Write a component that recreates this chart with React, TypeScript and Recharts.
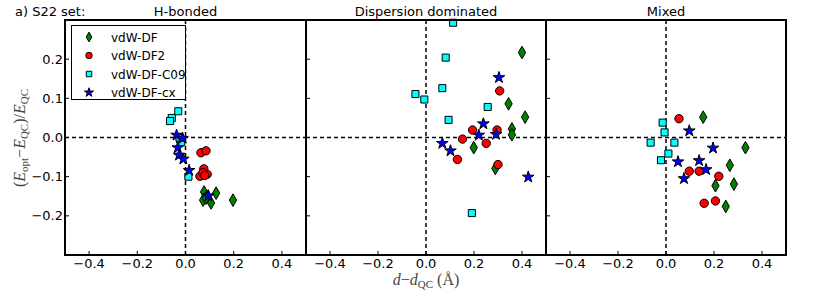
import { ReferenceLine, Scatter, ScatterChart, Symbols, XAxis, YAxis } from "recharts";

// d - d_QC (Å) vs (E_opt - E_QC)/E_QC, one array per functional and panel
const hbDF = [
  { x: 0.077, y: -0.139 }, { x: 0.127, y: -0.142 }, { x: 0.073, y: -0.16 }, { x: 0.106, y: -0.167 },
  { x: 0.197, y: -0.16 }, { x: 0.092, y: -0.15 }, { x: 0.085, y: -0.155 },
];
const hbDF2 = [
  { x: 0.064, y: -0.039 }, { x: 0.085, y: -0.034 }, { x: 0.076, y: -0.08 }, { x: 0.06, y: -0.099 },
  { x: 0.09, y: -0.094 }, { x: 0.072, y: -0.09 }, { x: 0.08, y: -0.097 },
];
const hbC09 = [
  { x: -0.03, y: 0.067 }, { x: -0.057, y: 0.05 }, { x: -0.064, y: 0.042 }, { x: -0.022, y: -0.005 },
  { x: -0.018, y: -0.012 }, { x: -0.025, y: 0.0 }, { x: 0.012, y: -0.1 },
];
const hbCX = [
  { x: -0.037, y: 0.006 }, { x: -0.012, y: -0.002 }, { x: -0.032, y: -0.026 }, { x: -0.027, y: -0.045 },
  { x: -0.009, y: -0.055 }, { x: 0.015, y: -0.084 }, { x: 0.095, y: -0.149 },
];

const dispDF = [
  { x: 0.4, y: 0.217 }, { x: 0.344, y: 0.086 }, { x: 0.413, y: 0.052 }, { x: 0.358, y: 0.022 },
  { x: 0.358, y: 0.007 }, { x: 0.199, y: -0.026 }, { x: 0.289, y: -0.079 },
];
const dispDF2 = [
  { x: 0.307, y: 0.119 }, { x: 0.194, y: 0.019 }, { x: 0.296, y: 0.019 }, { x: 0.152, y: -0.004 },
  { x: 0.251, y: -0.015 }, { x: 0.131, y: -0.056 }, { x: 0.3, y: -0.069 },
];
const dispC09 = [
  { x: 0.113, y: 0.293 }, { x: 0.082, y: 0.204 }, { x: 0.068, y: 0.126 }, { x: -0.044, y: 0.111 },
  { x: -0.007, y: 0.097 }, { x: 0.257, y: 0.078 }, { x: 0.094, y: 0.045 }, { x: 0.191, y: -0.193 },
];
const dispCX = [
  { x: 0.304, y: 0.153 }, { x: 0.239, y: 0.035 }, { x: 0.22, y: 0.006 }, { x: 0.292, y: 0.008 },
  { x: 0.068, y: -0.015 }, { x: 0.102, y: -0.034 }, { x: 0.426, y: -0.101 },
];

const mixDF = [
  { x: 0.155, y: 0.052 }, { x: 0.331, y: -0.026 }, { x: 0.266, y: -0.071 }, { x: 0.206, y: -0.123 },
  { x: 0.283, y: -0.119 }, { x: 0.249, y: -0.176 },
];
const mixDF2 = [
  { x: 0.054, y: 0.048 }, { x: 0.097, y: -0.086 }, { x: 0.138, y: -0.086 }, { x: 0.22, y: -0.099 },
  { x: 0.159, y: -0.168 }, { x: 0.206, y: -0.162 },
];
const mixC09 = [
  { x: -0.014, y: 0.038 }, { x: -0.006, y: 0.013 }, { x: -0.064, y: -0.013 }, { x: 0.035, y: -0.013 },
  { x: 0.01, y: -0.041 }, { x: -0.021, y: -0.058 },
];
const mixCX = [
  { x: 0.097, y: 0.017 }, { x: 0.196, y: -0.027 }, { x: 0.05, y: -0.062 }, { x: 0.138, y: -0.059 },
  { x: 0.167, y: -0.082 }, { x: 0.075, y: -0.105 },
];

const xTicks = [-0.4, -0.2, 0, 0.2, 0.4];
const yTicks = [-0.2, -0.1, 0, 0.1, 0.2];
const xDomain = [-0.5, 0.5];
const yDomain = [-0.3, 0.3];
const seriesNames = ["vdW-DF", "vdW-DF2", "vdW-DF-C09", "vdW-DF-cx"];

const markers = [
  { type: "diamond", fill: "#008000", size: 46 },
  { type: "circle", fill: "#ff0000", size: 55 },
  { type: "square", fill: "#00ffff", size: 50 },
  { type: "star", fill: "#0000ff", size: 42 },
] as const;

const fmt = (v: number) => (v < 0 ? "\u2212" + Math.abs(v).toFixed(1) : v.toFixed(1));
const tickFont = { fontSize: 13, fill: "#000", fontFamily: "DejaVu Sans" };
const noLabel = () => <g />;

const shapeFor = (i: number) => (p: any) => (
  <Symbols cx={p.cx} cy={p.cy} type={markers[i].type} size={markers[i].size} fill={markers[i].fill} stroke="#000" strokeWidth={1} />
);

function LegendBox() {
  return (
    <div style={{ position: "absolute", left: 71, top: 25, width: 115, height: 75, border: "1px solid #000", background: "#fff", boxSizing: "border-box" }}>
      <svg width={113} height={73} style={{ overflow: "visible" }}>
        {seriesNames.map((n, i) => (
          <g key={n}>
            <Symbols cx={17} cy={11 + i * 18.5} type={markers[i].type} size={markers[i].size * 0.6} fill={markers[i].fill} stroke="#000" strokeWidth={1} />
            <text x={39} y={15.5 + i * 18.5} fontSize={12} fontFamily="DejaVu Sans" fill="#000">{n}</text>
          </g>
        ))}
      </svg>
    </div>
  );
}

const yLabel = () => (
  <text x={25} y={138} transform="rotate(-90, 25, 138)" textAnchor="middle" fontFamily="Liberation Serif" fontSize={16} fill="#444">
    (<tspan fontStyle="italic">E</tspan>
    <tspan fontSize={11} dy={3}>opt</tspan>
    <tspan dy={-3}>{"\u2212"}</tspan>
    <tspan fontStyle="italic">E</tspan>
    <tspan fontSize={11} dy={3}>QC</tspan>
    <tspan dy={-3}>)/</tspan>
    <tspan fontStyle="italic">E</tspan>
    <tspan fontSize={11} dy={3}>QC</tspan>
  </text>
);

const xLabel = () => (
  <text x={121} y={285} textAnchor="middle" fontFamily="Liberation Serif" fontSize={16} fill="#444">
    <tspan fontStyle="italic">d</tspan>
    <tspan>{"\u2212"}</tspan>
    <tspan fontStyle="italic">d</tspan>
    <tspan fontSize={11} dy={3}>QC</tspan>
    <tspan dy={-3}> (Å)</tspan>
  </text>
);

const titleFor = (title: string, center: number, withSet: boolean) => () => (
  <g fontFamily="DejaVu Sans" fontSize={13} fill="#000">
    {withSet && <text x={15} y={16}>a) S22 set:</text>}
    <text x={center} y={16} textAnchor="middle">{title}</text>
  </g>
);

type Panel = {
  title: string;
  left: number;
  width: number;
  data: { x: number; y: number }[][];
  first?: boolean;
  mid?: boolean;
};

const frame = { stroke: "#000", strokeWidth: 2 };
const tickLn = { stroke: "#000", strokeWidth: 1 };

// every panel is framed by four axes; only the first carries y labels
function PanelChart({ title, left, width, data, first, mid }: Panel) {
  const yw = first ? 65 : 1;
  const x0 = left - (first ? 0 : 1);
  const w = width + yw + 1;
  return (
    <div style={{ position: "absolute", left: x0, top: 0 }}>
      <ScatterChart width={w} height={300} margin={{ top: 19, right: 0, bottom: 15, left: 0 }}>
        <XAxis
          type="number" dataKey="x" domain={xDomain} ticks={xTicks} interval={0} tickFormatter={fmt}
          tick={tickFont} tickSize={-4} tickMargin={8} height={30} axisLine={frame} tickLine={tickLn}
          label={mid ? xLabel : undefined}
        />
        <XAxis
          xAxisId="t" orientation="top" type="number" domain={xDomain} ticks={xTicks} interval={0}
          tick={noLabel} tickSize={-4} height={1} axisLine={frame} tickLine={tickLn}
          label={titleFor(title, yw + width / 2, !!first)}
        />
        <YAxis
          type="number" dataKey="y" domain={yDomain} ticks={yTicks} interval={0} tickFormatter={fmt}
          tick={first ? tickFont : noLabel} tickSize={-4} tickMargin={6} width={yw} axisLine={frame} tickLine={tickLn}
          label={first ? yLabel : undefined}
        />
        <YAxis
          yAxisId="r" orientation="right" type="number" domain={yDomain} ticks={yTicks} interval={0}
          tick={noLabel} tickSize={-4} width={1} axisLine={frame} tickLine={tickLn}
        />
        <ReferenceLine x={0} stroke="#000" strokeWidth={1.5} strokeDasharray="4 3" />
        <ReferenceLine y={0} stroke="#000" strokeWidth={1.5} strokeDasharray="4 3" />
        {data.map((d, i) => (
          <Scatter key={seriesNames[i]} name={seriesNames[i]} data={d} shape={shapeFor(i)} isAnimationActive={false} />
        ))}
      </ScatterChart>
    </div>
  );
}

export default function App() {
  return (
    <div style={{ position: "absolute", left: 0, top: 0, width: 827, height: 300, background: "#fff", fontFamily: "DejaVu Sans" }}>
      <PanelChart title="H-bonded" left={0} width={241} data={[hbDF, hbDF2, hbC09, hbCX]} first />
      <PanelChart title="Dispersion dominated" left={306} width={240} data={[dispDF, dispDF2, dispC09, dispCX]} mid />
      <PanelChart title="Mixed" left={546} width={240} data={[mixDF, mixDF2, mixC09, mixCX]} />
      {/* outer frame edges of the three-panel block */}
      <div style={{ position: "absolute", left: 64, top: 19, width: 723, height: 237, border: "2px solid #000", boxSizing: "border-box", pointerEvents: "none" }} />
      <LegendBox />
    </div>
  );
}
